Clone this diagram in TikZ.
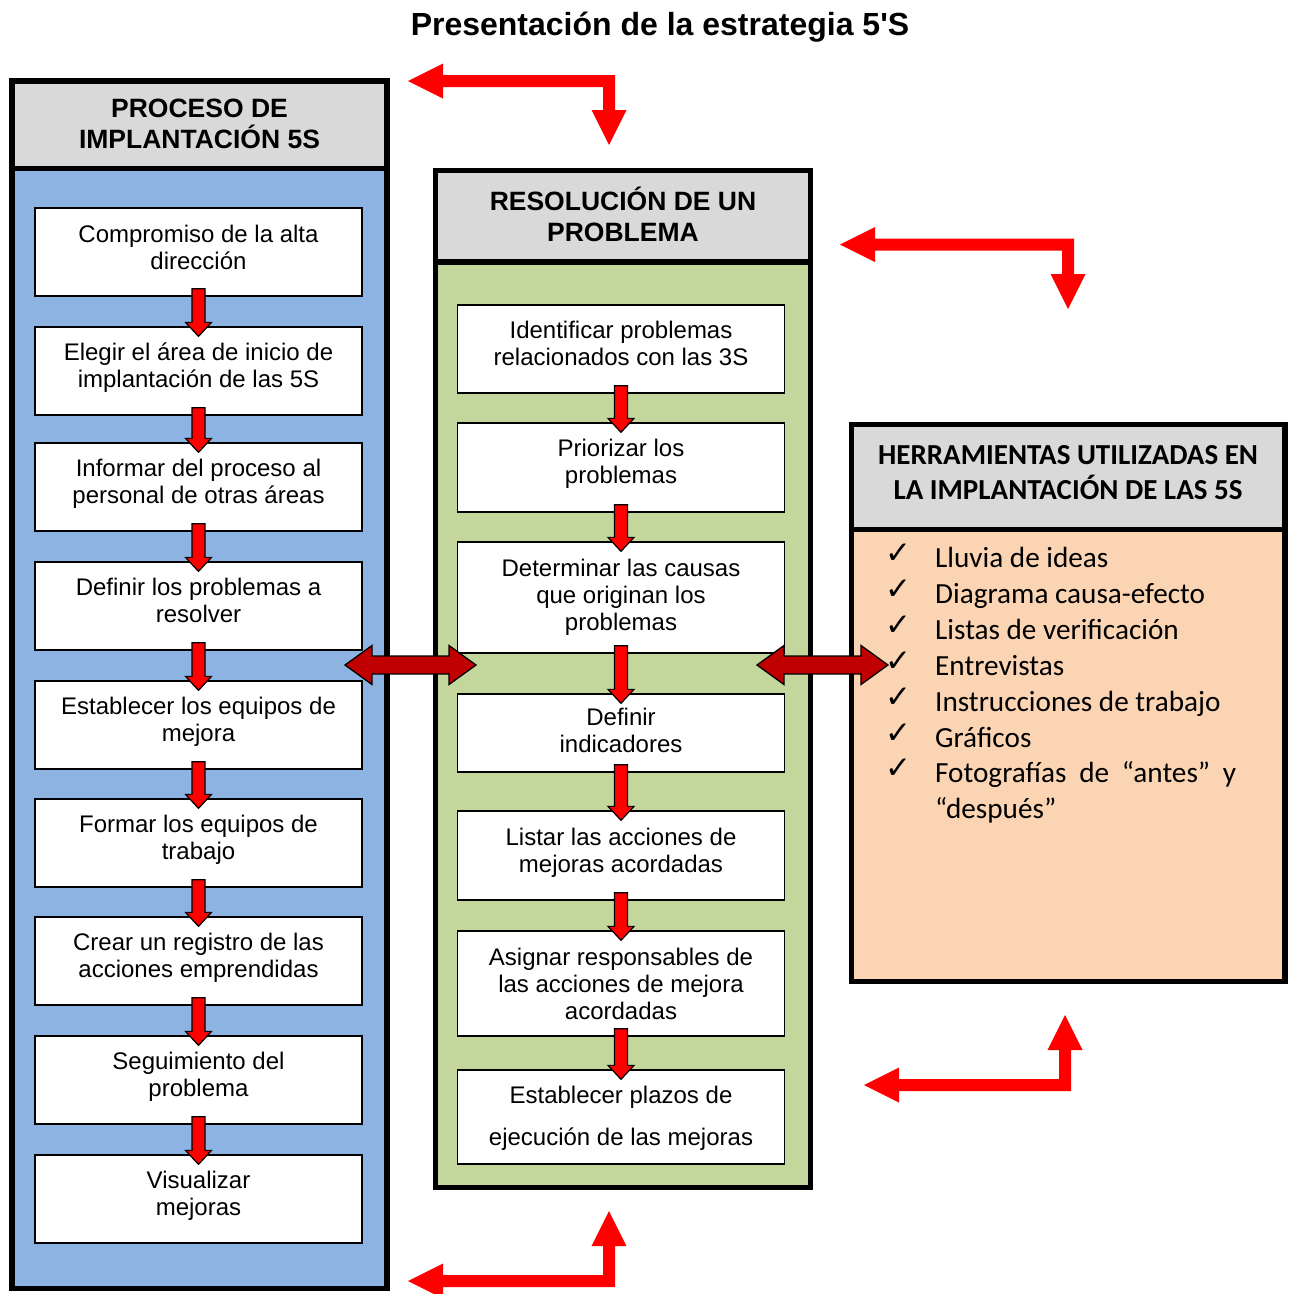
\documentclass[tikz,border=0pt]{standalone}
\usepackage{fontspec}
\setmainfont{Liberation Sans}
\newfontfamily\titlefont[Ligatures=TeXOff]{Liberation Sans}
\newfontfamily\calibfont{Carlito}
\newfontfamily\symfont{DejaVu Sans}
\usetikzlibrary{calc}

\definecolor{hdrgray}{HTML}{D9D9D9}
\definecolor{colblue}{HTML}{8DB3E2}
\definecolor{colgreen}{HTML}{C3D69B}
\definecolor{colpeach}{HTML}{FBD4B4}
\definecolor{darkred}{HTML}{C00000}

% step box: name, x, y, height, text offset, text
\newcommand\stepnode[6]{%
  \node[stepbox, minimum height=#4pt] (#1) at (#2,#3) {};
  \node[steptext] (#1t) at ($(#1.center)+(0,#5)$) {#6};}

% red block arrow pointing down from one step box to the next
\newcommand\flowdown[2]{%
  \draw[downarr] let \p1=(#1.south), \p2=(#2.north) in
    ({\x1-6.5pt},{\y1+8pt}) -- ({\x1+6.5pt},{\y1+8pt}) -- ({\x1+6.5pt},{\y2+4pt})
    -- ({\x1+13pt},{\y2+4pt}) -- (\x1,{\y2-10pt}) -- ({\x1-13pt},{\y2+4pt})
    -- ({\x1-6.5pt},{\y2+4pt}) -- cycle;}

% L-shaped red arrow with a head at both ends (#1 horizontal tip, #2 vertical tip)
\newcommand\bentarrow[2]{%
  \fill[red] let \p1=(#1), \p2=(#2), \n1={sign(\y2-\y1)} in
    (\p1) -- ({\x1+35pt},{\y1-(\n1)*17.5pt}) -- ({\x1+35pt},{\y1-(\n1)*6pt})
    -- ({\x2+6pt},{\y1-(\n1)*6pt}) -- ({\x2+6pt},{\y2-(\n1)*35pt})
    -- ({\x2+17.5pt},{\y2-(\n1)*35pt}) -- (\p2) -- ({\x2-17.5pt},{\y2-(\n1)*35pt})
    -- ({\x2-6pt},{\y2-(\n1)*35pt}) -- ({\x2-6pt},{\y1+(\n1)*6pt})
    -- ({\x1+35pt},{\y1+(\n1)*6pt}) -- ({\x1+35pt},{\y1+(\n1)*17.5pt}) -- cycle;}

% horizontal double-headed block arrow between two coordinates
\newcommand\linkarrow[2]{%
  \draw[dblarr] (#1) -- ++(27,-19.5) -- ++(0,10.5) -- ($(#2)+(-27,-9)$) -- ++(0,-10.5)
    -- (#2) -- ++(-27,19.5) -- ++(0,-10.5) -- ($(#1)+(27,9)$) -- ++(0,10.5) -- cycle;}

\begin{document}
\begin{tikzpicture}[x=1pt,y=-1pt,
  frame/.style={draw=black, line width=5.5pt},
  stepbox/.style={draw=black, fill=white, line width=1.3pt, minimum width=327pt, inner sep=0pt},
  steptext/.style={inner sep=0pt, align=center, font=\fontsize{24}{27}\selectfont},
  colhead/.style={align=center, font=\bfseries\fontsize{26.5}{31}\selectfont},
  listitem/.style={anchor=base west, inner sep=0pt, font=\calibfont\fontsize{29.2}{36}\selectfont},
  tick/.style={anchor=base west, inner sep=0pt, font=\symfont\fontsize{31}{36}\selectfont},
  downarr/.style={draw=black, fill=red, line width=1.2pt, line join=miter},
  dblarr/.style={draw=black, fill=darkred, line width=1.3pt, line join=miter}]
\useasboundingbox (0,0) rectangle (1289,1294);

% title
\node[font=\titlefont\bfseries\fontsize{32}{38}\selectfont] (title) at (660,27) {Presentación de la estrategia 5'S};

% left column
\fill[colblue] (12,168.5) rectangle (387,1288.5);
\fill[hdrgray] (12,81) rectangle (387,168.5);
\draw[frame] (12,81) rectangle (387,1288.5);
\draw[frame] (12,168.5) -- (387,168.5);
\node[colhead] (lhead) at (199.5,124) {PROCESO DE\\IMPLANTACIÓN 5S};

% middle column
\fill[colgreen] (435.5,262) rectangle (810.5,1187.5);
\fill[hdrgray] (435.5,170.5) rectangle (810.5,262);
\draw[frame] (435.5,170.5) rectangle (810.5,1187.5);
\draw[frame] (435.5,262) -- (810.5,262);
\node[colhead] (mhead) at (623,214) {RESOLUCIÓN DE UN\\PROBLEMA};

% right box
\fill[colpeach] (851.5,529.5) rectangle (1285,981.5);
\fill[hdrgray] (851.5,424.5) rectangle (1285,529.5);
\draw[frame] (851.5,424.5) rectangle (1285,981.5);
\draw[frame] (851.5,529.5) -- (1285,529.5);
\node[align=center, font=\calibfont\bfseries\fontsize{29}{35}\selectfont] (rhead) at (1068,473)
  {HERRAMIENTAS UTILIZADAS EN\\LA IMPLANTACIÓN DE LAS 5S};

% implementation steps
\stepnode{b1}{198.5}{252}{88}{-5}{Compromiso de la alta\\dirección}
\stepnode{b2}{198.5}{371}{88}{-3}{Elegir el área de inicio de\\implantación de las 5S}
\stepnode{b3}{198.5}{487}{88}{-3}{Informar del proceso al\\personal de otras áreas}
\stepnode{b4}{198.5}{606}{88}{-5.5}{Definir los problemas a\\resolver}
\stepnode{b5}{198.5}{725}{88}{-3.5}{Establecer los equipos de\\mejora}
\stepnode{b6}{198.5}{843}{88}{-3.5}{Formar los equipos de\\trabajo}
\stepnode{b7}{198.5}{961}{88}{-3.5}{Crear un registro de las\\acciones emprendidas}
\stepnode{b8}{198.5}{1080}{88}{-3.5}{Seguimiento del\\problema}
\stepnode{b9}{198.5}{1199}{88}{-3.5}{Visualizar\\mejoras}

% problem-solving steps
\stepnode{m1}{621}{349}{88}{-5.5}{Identificar problemas\\relacionados con las 3S}
\stepnode{m2}{621}{467.5}{89}{-4}{Priorizar los\\problemas}
\stepnode{m3}{621}{597.5}{111}{0}{Determinar las causas\\que originan los\\problemas}
\stepnode{m4}{621}{733}{78}{-3}{Definir\\indicadores}
\stepnode{m5}{621}{855.5}{89}{-3}{Listar las acciones de\\mejoras acordadas}
\stepnode{m6}{621}{983.5}{105}{0.5}{Asignar responsables de\\las acciones de mejora\\acordadas}
\stepnode{m7}{621}{1117}{94}{1}{Establecer plazos de\\[15pt]ejecución de las mejoras}

% flow between steps
\foreach \a/\b in {b1/b2,b2/b3,b3/b4,b4/b5,b5/b6,b6/b7,b7/b8,b8/b9,m1/m2,m2/m3,m3/m4,m4/m5,m5/m6,m6/m7}
  {\flowdown{\a}{\b}}

% tools list
\foreach \i/\t/\yb in {1/Lluvia de ideas/567, 2/Diagrama causa-efecto/603, 3/Listas de verificación/639,
    4/Entrevistas/675, 5/Instrucciones de trabajo/711, 6/Gráficos/747}
  {\node[tick] (k\i) at (885,\yb-4) {✓};
   \node[listitem] (t\i) at (935,\yb) {\t};}
\node[tick] (k7) at (885,778) {✓};
\node[listitem] (t7) at (935,782) {\makebox[301pt][s]{Fotografías de “antes” y}};
\node[listitem] (t8) at (935,818) {“después”};

% links between the three panels
\coordinate (lla) at (345,665);
\coordinate (llb) at (476,665);
\coordinate (lra) at (757,665);
\coordinate (lrb) at (888,665);
\linkarrow{lla}{llb}
\linkarrow{lra}{lrb}

% cycle arrows around the panels
\coordinate (tlA) at (408,81);    \coordinate (tlB) at (609,145);
\coordinate (trA) at (840,244.5); \coordinate (trB) at (1068,309);
\coordinate (brA) at (864,1085);  \coordinate (brB) at (1065,1015);
\coordinate (blA) at (408,1281);  \coordinate (blB) at (609,1211);
\bentarrow{tlA}{tlB}
\bentarrow{trA}{trB}
\bentarrow{brA}{brB}
\bentarrow{blA}{blB}
\end{tikzpicture}
\end{document}
